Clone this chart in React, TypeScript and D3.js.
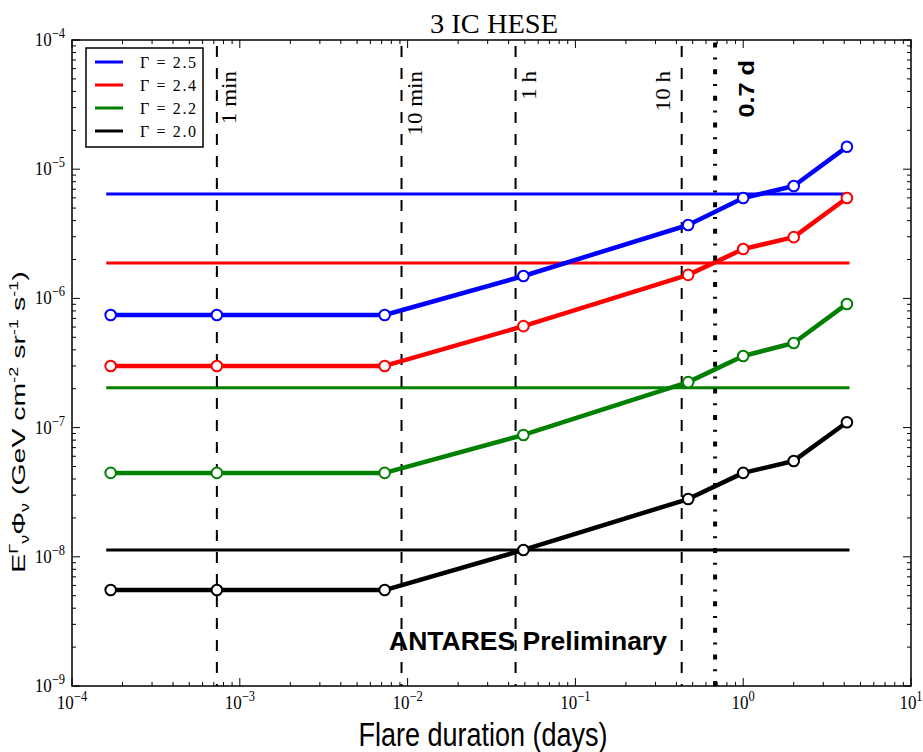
import React from "react";
import * as d3 from "d3";

const durations = [1.7e-4, 7.3e-4, 7.3e-3, 0.049, 0.47, 1.0, 2.0, 4.15];
const gammaLabels = ["Γ = 2.5", "Γ = 2.4", "Γ = 2.2", "Γ = 2.0"];
const colors = ["#0000ff", "#ff0000", "#008000", "#000000"];
const flux25 = [7.44e-7, 7.44e-7, 7.44e-7, 1.49e-6, 3.7e-6, 5.98e-6, 7.41e-6, 1.49e-5];
const flux24 = [3.0e-7, 3.0e-7, 3.0e-7, 6.1e-7, 1.52e-6, 2.41e-6, 2.98e-6, 5.98e-6];
const flux22 = [4.46e-8, 4.46e-8, 4.46e-8, 8.77e-8, 2.25e-7, 3.58e-7, 4.52e-7, 9.06e-7];
const flux20 = [5.53e-9, 5.53e-9, 5.53e-9, 1.13e-8, 2.8e-8, 4.46e-8, 5.52e-8, 1.1e-7];
const series = [flux25, flux24, flux22, flux20];
const sensitivity = [6.43e-6, 1.88e-6, 2.03e-7, 1.13e-8];
const sensXRange = [1.6e-4, 4.3];
const markerLines = [7.3e-4, 9.2e-3, 0.044, 0.43];
const markerLabels = ["1 min", "10 min", "1 h", "10 h"];
const flareLine = 0.68;
const flareLabel = "0.7 d";
const xTickExps = [-4, -3, -2, -1, 0, 1];
const yTickExps = [-9, -8, -7, -6, -5, -4];

const W = 923, H = 752;
const L = 72, R = 911, T = 40, B = 686;

function expLabel(e: number) {
  return e < 0 ? "−" + Math.abs(e) : String(e);
}

export default function App() {
  const x = d3.scaleLog().domain([1e-4, 10]).range([L, R]);
  const y = d3.scaleLog().domain([1e-9, 1e-4]).range([B, T]);
  const line = d3.line<number>().x((_, i) => x(durations[i])).y((d) => y(d));

  const xMinor: number[] = [];
  for (let e = -4; e < 1; e++) for (let m = 2; m <= 9; m++) xMinor.push(m * Math.pow(10, e));
  const yMinor: number[] = [];
  for (let e = -9; e < -4; e++) for (let m = 2; m <= 9; m++) yMinor.push(m * Math.pow(10, e));

  const serif = "'Liberation Serif', 'DejaVu Serif', serif";
  const sans = "'Liberation Sans', Arial, sans-serif";

  const labelOffsets = [12, 13, 13, -19];

  return (
    <svg width={W} height={H} style={{ position: "absolute", left: 0, top: 0, background: "#fff" }}>
      <rect x={0} y={0} width={W} height={H} fill="#fff" />
      {/* title */}
      <text transform="translate(494,33) scale(1,1.1)" textAnchor="middle" fontFamily={serif} fontSize={24} textLength={128} lengthAdjust="spacingAndGlyphs" fill="#000">3 IC HESE</text>

      {/* sensitivity horizontal lines */}
      {sensitivity.map((s, i) => (
        <line key={"s" + i} x1={x(sensXRange[0])} x2={x(sensXRange[1])} y1={y(s)} y2={y(s)} stroke={colors[i]} strokeWidth={3} />
      ))}

      {/* ANTARES text */}
      <text x={528} y={650} textAnchor="middle" fontFamily={sans} fontWeight="bold" fontSize={26.5} fill="#000">ANTARES Preliminary</text>

      {/* dashed vertical lines */}
      {markerLines.map((m, i) => (
        <g key={"v" + i}>
          <line x1={x(m)} x2={x(m)} y1={T + 6} y2={B} stroke="#000" strokeWidth={2} strokeDasharray="11,11" />
          <text transform={`translate(${x(m) + labelOffsets[i] + 7},${T + 31}) rotate(-90) scale(1.15,1)`} textAnchor="end" fontFamily={serif} fontSize={20} fill="#000">{markerLabels[i]}</text>
        </g>
      ))}

      {/* series */}
      {series.map((s, i) => (
        <path key={"p" + i} d={line(s) || ""} fill="none" stroke={colors[i]} strokeWidth={4.5} strokeLinejoin="round" />
      ))}
      {series.map((s, i) =>
        s.map((v, j) => (
          <circle key={`c${i}-${j}`} cx={x(durations[j])} cy={y(v)} r={5.3} fill="#fff" stroke={colors[i]} strokeWidth={2} />
        ))
      )}

      {/* 0.7 d line */}
      <line x1={x(flareLine)} x2={x(flareLine)} y1={B} y2={T} stroke="#000" strokeWidth={4} strokeDasharray="5,9.8,2,9.8" />
      <text transform={`translate(${x(flareLine) + 39},${T + 20}) rotate(-90) scale(1.15,1)`} textAnchor="end" fontFamily={sans} fontWeight="bold" fontSize={22} fill="#000">{flareLabel}</text>

      {/* axes frame */}
      <rect x={L} y={T} width={R - L} height={B - T} fill="none" stroke="#000" strokeWidth={1.5} />

      {/* x ticks */}
      {xTickExps.map((e) => {
        const px = x(Math.pow(10, e));
        return (
          <g key={"xt" + e}>
            <line x1={px} x2={px} y1={B} y2={B - 8} stroke="#000" strokeWidth={1} />
            <line x1={px} x2={px} y1={T} y2={T + 8} stroke="#000" strokeWidth={1} />
            <text transform={`translate(${px},709) scale(1,1.15)`} textAnchor="middle" fontFamily={serif} fontSize={17} fill="#000">
              10<tspan dy={-7} fontSize={12.5}>{expLabel(e)}</tspan>
            </text>
          </g>
        );
      })}
      {xMinor.map((v, i) => (
        <g key={"xm" + i}>
          <line x1={x(v)} x2={x(v)} y1={B} y2={B - 4} stroke="#000" strokeWidth={1} />
          <line x1={x(v)} x2={x(v)} y1={T} y2={T + 4} stroke="#000" strokeWidth={1} />
        </g>
      ))}

      {/* y ticks */}
      {yTickExps.map((e) => {
        const py = y(Math.pow(10, e));
        return (
          <g key={"yt" + e}>
            <line x1={L} x2={L + 8} y1={py} y2={py} stroke="#000" strokeWidth={1} />
            <line x1={R} x2={R - 8} y1={py} y2={py} stroke="#000" strokeWidth={1} />
            <text transform={`translate(65,${py + 6}) scale(1,1.15)`} textAnchor="end" fontFamily={serif} fontSize={17} fill="#000">
              10<tspan dy={-7} fontSize={12.5}>{expLabel(e)}</tspan>
            </text>
          </g>
        );
      })}
      {yMinor.map((v, i) => (
        <g key={"ym" + i}>
          <line x1={L} x2={L + 4} y1={y(v)} y2={y(v)} stroke="#000" strokeWidth={1} />
          <line x1={R} x2={R - 4} y1={y(v)} y2={y(v)} stroke="#000" strokeWidth={1} />
        </g>
      ))}

      {/* legend */}
      <rect x={86} y={48} width={117} height={99} fill="#fff" stroke="#000" strokeWidth={1.5} />
      {gammaLabels.map((g, i) => {
        const ly = 62 + i * 23;
        return (
          <g key={"lg" + i}>
            <line x1={95} x2={123} y1={ly} y2={ly} stroke={colors[i]} strokeWidth={3} />
            <text x={140} y={ly + 5.5} fontFamily={serif} fontSize={16} textLength={56} lengthAdjust="spacing" fill="#000">{g}</text>
          </g>
        );
      })}

      {/* axis labels */}
      <text transform="translate(483,746) scale(1,1.2)" textAnchor="middle" fontFamily={sans} fontSize={27} fill="#000">Flare duration (days)</text>
      <text transform="translate(25,422) rotate(-90) scale(1.5,1)" textAnchor="middle" fontFamily={sans} fontSize={19} fill="#000">
        E<tspan dy={-7} fontSize={12}>Γ</tspan><tspan dy={11} fontSize={12}>ν</tspan><tspan dy={-4}>Φ</tspan><tspan dy={4} fontSize={12}>ν</tspan><tspan dy={-4}> (GeV cm</tspan><tspan dy={-7} fontSize={12}>-2</tspan><tspan dy={7}> sr</tspan><tspan dy={-7} fontSize={12}>-1</tspan><tspan dy={7}> s</tspan><tspan dy={-7} fontSize={12}>-1</tspan><tspan dy={7}>)</tspan>
      </text>
    </svg>
  );
}
